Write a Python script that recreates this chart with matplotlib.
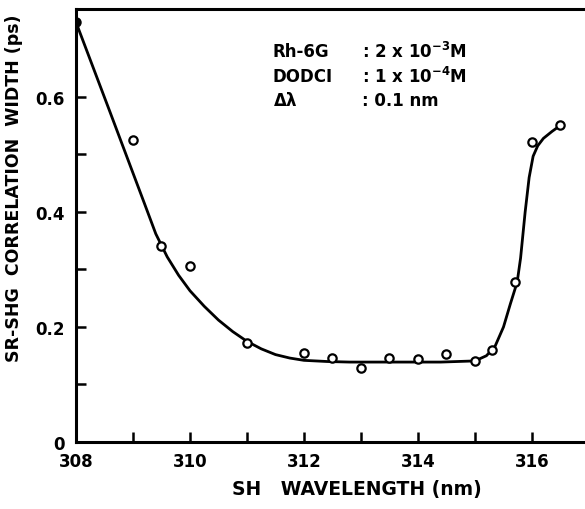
import matplotlib
matplotlib.use("Agg")
import matplotlib.pyplot as plt
import numpy as np

# measured points (open circles)
wl = [308.0, 309.0, 309.5, 310.0, 311.0, 312.0, 312.5, 313.0, 313.5, 314.0,
      314.5, 315.0, 315.3, 315.7, 316.0, 316.5]
width = [0.730, 0.525, 0.341, 0.306, 0.172, 0.155, 0.146, 0.129, 0.146, 0.145,
         0.153, 0.141, 0.160, 0.278, 0.522, 0.551]

# hand drawn guide curve
curve_x = [308.0, 308.6, 309.2, 309.4, 309.6, 309.8, 310.0, 310.25, 310.5, 310.75,
           311.0, 311.25, 311.5, 311.75, 312.0, 312.4, 312.8, 313.5, 314.4, 315.0,
           315.2, 315.35, 315.5, 315.62, 315.74, 315.8, 315.88, 315.95, 316.02, 316.1,
           316.2, 316.35, 316.49]
curve_y = [0.730, 0.573, 0.415, 0.362, 0.322, 0.290, 0.263, 0.236, 0.212, 0.192,
           0.175, 0.162, 0.152, 0.146, 0.142, 0.140, 0.139, 0.139, 0.139, 0.141,
           0.150, 0.166, 0.200, 0.240, 0.278, 0.320, 0.400, 0.460, 0.497, 0.515,
           0.528, 0.540, 0.550]

plt.rcParams['font.family'] = 'DejaVu Sans'
plt.rcParams['font.weight'] = 'bold'
plt.rcParams['mathtext.default'] = 'bf'

fig = plt.figure(figsize=(5.85, 5.1), dpi=100)
ax = fig.add_axes([76/585, 1-443/510, 1-76/585, (443-10)/510])

ax.plot(curve_x, curve_y, color='black', lw=2.0, zorder=2)
ax.plot(wl[1:], width[1:], 'o', ms=6, mfc='white', mec='black', mew=1.6, zorder=3)
ax.plot(wl[:1], width[:1], 'o', ms=6.5, mfc='black', mec='black', zorder=3)

ax.set_xlim(308, 316.93)
ax.set_ylim(0, 0.753)
ax.set_xticks([308, 310, 312, 314, 316])
ax.set_xticks(np.arange(309, 317, 2), minor=True)
ax.set_yticks([0, 0.2, 0.4, 0.6])
ax.set_yticks([0.1, 0.3, 0.5], minor=True)
ax.set_yticklabels(['0', '0.2', '0.4', '0.6'])
ax.tick_params(which='both', direction='in', length=7, width=1.8, labelsize=12)
ax.tick_params(axis='x', pad=7)
ax.tick_params(axis='y', pad=8)
for s in ['left', 'top', 'bottom']:
    ax.spines[s].set_linewidth(2.2)
ax.spines['right'].set_visible(False)

fig.text(14/585, 1-188/510, 'SR-SHG  CORRELATION  WIDTH (ps)', rotation=90,
         ha='center', va='center', fontsize=12.5, fontweight='bold')
fig.text(357/585, 1-490/510, 'SH   WAVELENGTH (nm)', ha='center', va='center',
         fontsize=13.5, fontweight='bold')

rows = [('Rh-6G', r': 2 x 10$^{-3}$M'), ('DODCI', r': 1 x 10$^{-4}$M'), (r'$\Delta\lambda$', ': 0.1 nm')]
ys = [52, 77, 101]
for (lab, val), yy in zip(rows, ys):
    fig.text(273/585, 1-yy/510, lab, ha='left', va='center', fontsize=12, fontweight='bold')
    fig.text(362/585, 1-yy/510, val, ha='left', va='center', fontsize=12, fontweight='bold')

fig.savefig('out.png', dpi=100)
